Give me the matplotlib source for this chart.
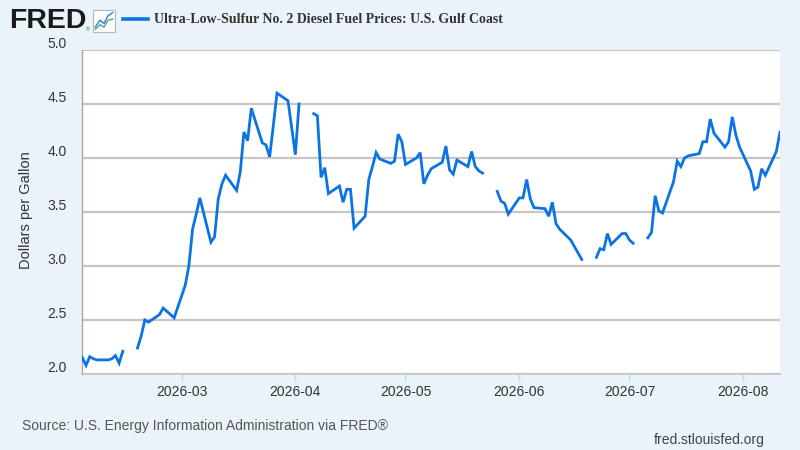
import numpy as np
import pandas as pd
import matplotlib
matplotlib.use("Agg")
import matplotlib.pyplot as plt
import matplotlib.dates as mdates
from matplotlib.patches import Rectangle
from matplotlib.lines import Line2D

# ---- data ----
dates = [
    "2026-02-02", "2026-02-03", "2026-02-04", "2026-02-05", "2026-02-06", "2026-02-09",
    "2026-02-10", "2026-02-11", "2026-02-12", "2026-02-13", "2026-02-16",
    "2026-02-17", "2026-02-18", "2026-02-19", "2026-02-20", "2026-02-23", "2026-02-24",
    "2026-02-25", "2026-02-26", "2026-02-27", "2026-03-02", "2026-03-03", "2026-03-04",
    "2026-03-05", "2026-03-06", "2026-03-09", "2026-03-10", "2026-03-11", "2026-03-12",
    "2026-03-13", "2026-03-16", "2026-03-17", "2026-03-18", "2026-03-19", "2026-03-20",
    "2026-03-23", "2026-03-24", "2026-03-25", "2026-03-26", "2026-03-27", "2026-03-30",
    "2026-03-31", "2026-04-01", "2026-04-02", "2026-04-03",
    "2026-04-06", "2026-04-07", "2026-04-08", "2026-04-09", "2026-04-10", "2026-04-13",
    "2026-04-14", "2026-04-15", "2026-04-16", "2026-04-17", "2026-04-20", "2026-04-21",
    "2026-04-22", "2026-04-23", "2026-04-24", "2026-04-27", "2026-04-28", "2026-04-29",
    "2026-04-30", "2026-05-01", "2026-05-04", "2026-05-05", "2026-05-06", "2026-05-07",
    "2026-05-08", "2026-05-11", "2026-05-12", "2026-05-13", "2026-05-14", "2026-05-15",
    "2026-05-18", "2026-05-19", "2026-05-20", "2026-05-21", "2026-05-22", "2026-05-25",
    "2026-05-26", "2026-05-27", "2026-05-28", "2026-05-29", "2026-06-01", "2026-06-02",
    "2026-06-03", "2026-06-04", "2026-06-05", "2026-06-08", "2026-06-09", "2026-06-10",
    "2026-06-11", "2026-06-12", "2026-06-15", "2026-06-16", "2026-06-17", "2026-06-18",
    "2026-06-19",
    "2026-06-22", "2026-06-23", "2026-06-24", "2026-06-25", "2026-06-26", "2026-06-29",
    "2026-06-30", "2026-07-01", "2026-07-02", "2026-07-03",
    "2026-07-06", "2026-07-07", "2026-07-08", "2026-07-09", "2026-07-10", "2026-07-13",
    "2026-07-14", "2026-07-15", "2026-07-16", "2026-07-17", "2026-07-20", "2026-07-21",
    "2026-07-22", "2026-07-23", "2026-07-24", "2026-07-27", "2026-07-28", "2026-07-29",
    "2026-07-30", "2026-07-31", "2026-08-03", "2026-08-04", "2026-08-05", "2026-08-06",
    "2026-08-07", "2026-08-10", "2026-08-11",
]
prices = [
    2.15, 2.08, 2.16, 2.14, 2.13, 2.13,
    2.14, 2.17, 2.10, 2.21, np.nan,
    2.24, 2.35, 2.50, 2.48, 2.55, 2.61,
    2.58, 2.55, 2.52, 2.82, 3.00, 3.34,
    3.48, 3.63, 3.22, 3.27, 3.62, 3.76,
    3.84, 3.70, 3.87, 4.24, 4.16, 4.46,
    4.14, 4.12, 4.01, 4.30, 4.60, 4.53,
    4.28, 4.03, 4.50, np.nan,
    4.41, 4.39, 3.82, 3.91, 3.67, 3.74,
    3.59, 3.71, 3.71, 3.35, 3.46, 3.80,
    3.92, 4.05, 3.99, 3.95, 3.97, 4.22,
    4.15, 3.94, 4.00, 4.05, 3.76, 3.84,
    3.90, 3.96, 4.11, 3.89, 3.85, 3.98,
    3.92, 4.06, 3.92, 3.88, 3.86, np.nan,
    3.69, 3.60, 3.58, 3.48, 3.63, 3.63,
    3.80, 3.62, 3.54, 3.53, 3.46, 3.59,
    3.39, 3.34, 3.24, 3.18, 3.12, 3.06,
    np.nan,
    3.08, 3.16, 3.15, 3.30, 3.20, 3.30,
    3.30, 3.24, 3.21, np.nan,
    3.26, 3.31, 3.65, 3.51, 3.49, 3.78,
    3.97, 3.92, 4.00, 4.02, 4.04, 4.15,
    4.15, 4.36, 4.23, 4.10, 4.15, 4.38,
    4.21, 4.10, 3.88, 3.71, 3.73, 3.90,
    3.84, 4.06, 4.24,
]
y_ticks = [2.0, 2.5, 3.0, 3.5, 4.0, 4.5, 5.0]
x_tick_dates = ["2026-03-01", "2026-04-01", "2026-05-01", "2026-06-01", "2026-07-01", "2026-08-01"]

title = "Ultra-Low-Sulfur No. 2 Diesel Fuel Prices: U.S. Gulf Coast"
y_label = "Dollars per Gallon"
source = "Source: U.S. Energy Information Administration via FRED®"
site = "fred.stlouisfed.org"

# ---- styling ----
BG = "#EAF2FA"
LINE = "#0B74E2"
GRID = "#C6C6C6"
TXT = "#333333"
SANS = ["Liberation Sans", "DejaVu Sans"]
SERIF = ["Liberation Serif", "DejaVu Serif"]

x = pd.to_datetime(dates)
y = np.array(prices, dtype=float)

fig = plt.figure(figsize=(8, 4.5), dpi=100, facecolor=BG)
ax = fig.add_axes([0.103, 0.169, 0.872, 0.72])
ax.set_facecolor("white")

ax.plot(x, y, color=LINE, lw=2.0, solid_joinstyle="miter", zorder=3)

ax.set_xlim(x[0], x[-1])
ax.set_ylim(2.0, 5.0)
ax.set_yticks(y_ticks)
ax.set_yticklabels([])
ax.yaxis.grid(True, color=GRID, lw=1.6)
ax.set_axisbelow(True)

for s in ["top", "right"]:
    ax.spines[s].set_visible(False)
ax.spines["left"].set_color("#A8A8A8")
ax.spines["left"].set_linewidth(1.0)
ax.spines["bottom"].set_color("#C6C6C6")
ax.spines["bottom"].set_linewidth(1.2)
ax.tick_params(axis="y", length=0)

# y tick labels sit slightly above their gridlines
for v in y_ticks:
    ax.annotate(f"{v:.1f}", xy=(0, v), xycoords=("axes fraction", "data"),
                xytext=(-11, 4), textcoords="offset points",
                ha="right", va="center", fontsize=10, color=TXT, family=SANS)

xt = pd.to_datetime(x_tick_dates)
ax.set_xticks(xt)
ax.xaxis.set_major_formatter(mdates.DateFormatter("%Y-%m"))
ax.tick_params(axis="x", length=5, width=1, color="#C8D4E3", pad=3,
               labelsize=10, labelcolor=TXT)
for lab in ax.get_xticklabels():
    lab.set_family(SANS)

fig.text(0.032, 0.532, y_label, rotation=90, ha="center", va="center",
         fontsize=10.5, color=TXT, family=SANS)

# ---- header ----
fig.text(0.011, 0.953, "FRED", ha="left", va="center", fontsize=20.5,
         fontweight="heavy", color="#1A1A1A", family=SANS)
fig.text(0.1075, 0.933, "®", ha="left", va="center", fontsize=3.5, color="#555555", family=SANS)
fig.patches.append(Rectangle((0.1165, 0.93), 0.0275, 0.048, transform=fig.transFigure,
                             facecolor="white", edgecolor="#B5B5B5", lw=0.8))
fig.lines.append(Line2D([0.119, 0.125, 0.130, 0.135, 0.141], [0.940, 0.955, 0.948, 0.965, 0.972],
                        transform=fig.transFigure, color="#2E7BD6", lw=1.0))
fig.lines.append(Line2D([0.119, 0.125, 0.130, 0.135, 0.141], [0.935, 0.945, 0.940, 0.955, 0.958],
                        transform=fig.transFigure, color="#3DAA8B", lw=1.0))
fig.lines.append(Line2D([0.154, 0.185], [0.958, 0.958], transform=fig.transFigure,
                        color=LINE, lw=2.6))
fig.text(0.192, 0.956, title, ha="left", va="center", fontsize=10,
         fontweight="bold", color=TXT, family=SERIF)

# ---- footer ----
fig.text(0.028, 0.054, source, ha="left", va="center", fontsize=10,
         color="#555555", family=SANS)
fig.text(0.956, 0.022, site, ha="right", va="center", fontsize=10,
         color="#444444", family=SANS)

fig.savefig("out.png", dpi=100, facecolor=BG)
